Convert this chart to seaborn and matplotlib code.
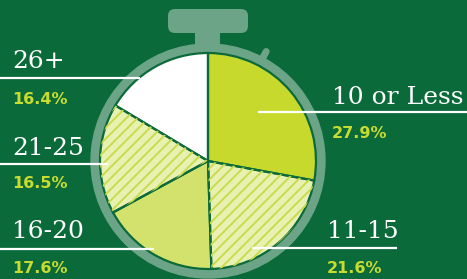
import numpy as np
import matplotlib.pyplot as plt
import seaborn as sns
from matplotlib.patches import Circle, FancyBboxPatch, Rectangle, Wedge

# 数据
categories = ['10 or Less', '11-15', '16-20', '21-25', '26+']
shares = [27.9, 21.6, 17.6, 16.5, 16.4]
pct_labels = ['27.9%', '21.6%', '17.6%', '16.5%', '16.4%']

# 颜色
bg = '#0b6a3a'
ring = '#6ba487'
face_colors = ['#c6d92c', '#e8f0b2', '#d2e26c', '#e8f0b2', '#ffffff']
hatched = [False, True, False, True, False]
stripe = '#c9dc4c'
label_col = '#c8dc30'

sns.set_theme(style='white')
plt.rcParams['hatch.linewidth'] = 1.4

W, H = 467, 279
fig = plt.figure(figsize=(W / 100, H / 100), dpi=100, facecolor=bg)
ax = fig.add_axes([0, 0, 1, 1])
ax.set_facecolor(bg)

cx, cy, r = 208, H - 161, 108

# 秒表外形
ax.add_patch(Circle((cx, cy), 117, color=ring, zorder=0))
ax.add_patch(FancyBboxPatch((168, H - 33), 80, 24, boxstyle='round,pad=0,rounding_size=7',
                            color=ring, zorder=0, linewidth=0))
ax.add_patch(Rectangle((195, H - 52), 25, 22, color=ring, zorder=0, linewidth=0))
ang = np.deg2rad(62)
ax.plot([cx + 113 * np.cos(ang), cx + 124 * np.cos(ang)],
        [cy + 113 * np.sin(ang), cy + 124 * np.sin(ang)],
        color=ring, lw=5, solid_capstyle='round', zorder=0)

# 饼图
wedges, _ = ax.pie(shares, colors=face_colors, startangle=90, counterclock=False,
                   center=(cx, cy), radius=r, frame=True,
                   wedgeprops=dict(linewidth=0))
for w, h in zip(wedges, hatched):
    if h:
        ax.add_patch(Wedge(w.center, w.r, w.theta1, w.theta2, facecolor='none',
                           edgecolor=stripe, hatch='///', linewidth=0, zorder=w.get_zorder() + 0.1))
ax.pie(shares, colors=['none'] * len(shares), startangle=90, counterclock=False,
       center=(cx, cy), radius=r, frame=True,
       wedgeprops=dict(linewidth=1.6, edgecolor=bg, facecolor='none'))

# 标签与引线
# (x, 标签基线y, 线y, 线x0, 线x1, 百分比基线y)
layout = {
    '10 or Less': (332, 104, 112, 258, 467, 138),
    '11-15': (327, 238, 248, 252, 397, 273),
    '16-20': (12, 238, 249, 0, 154, 273),
    '21-25': (12, 155, 164, 0, 108, 188),
    '26+': (12, 68, 78, 0, 140, 104),
}
for cat, pct in zip(categories, pct_labels):
    x, by, ly, x0, x1, py = layout[cat]
    ax.text(x, H - by, cat, color='white', fontsize=18, family='DejaVu Serif',
            va='baseline', ha='left', zorder=5)
    ax.plot([x0, x1], [H - ly, H - ly], color='white', lw=1.6, zorder=5,
            solid_capstyle='butt')
    ax.text(x, H - py, pct, color=label_col, fontsize=11.5, fontweight='bold',
            family='DejaVu Sans', va='baseline', ha='left', zorder=5)

ax.set_xlim(0, W)
ax.set_ylim(0, H)
ax.set_aspect('equal')
ax.axis('off')

fig.savefig('out.png', dpi=100, facecolor=bg)
